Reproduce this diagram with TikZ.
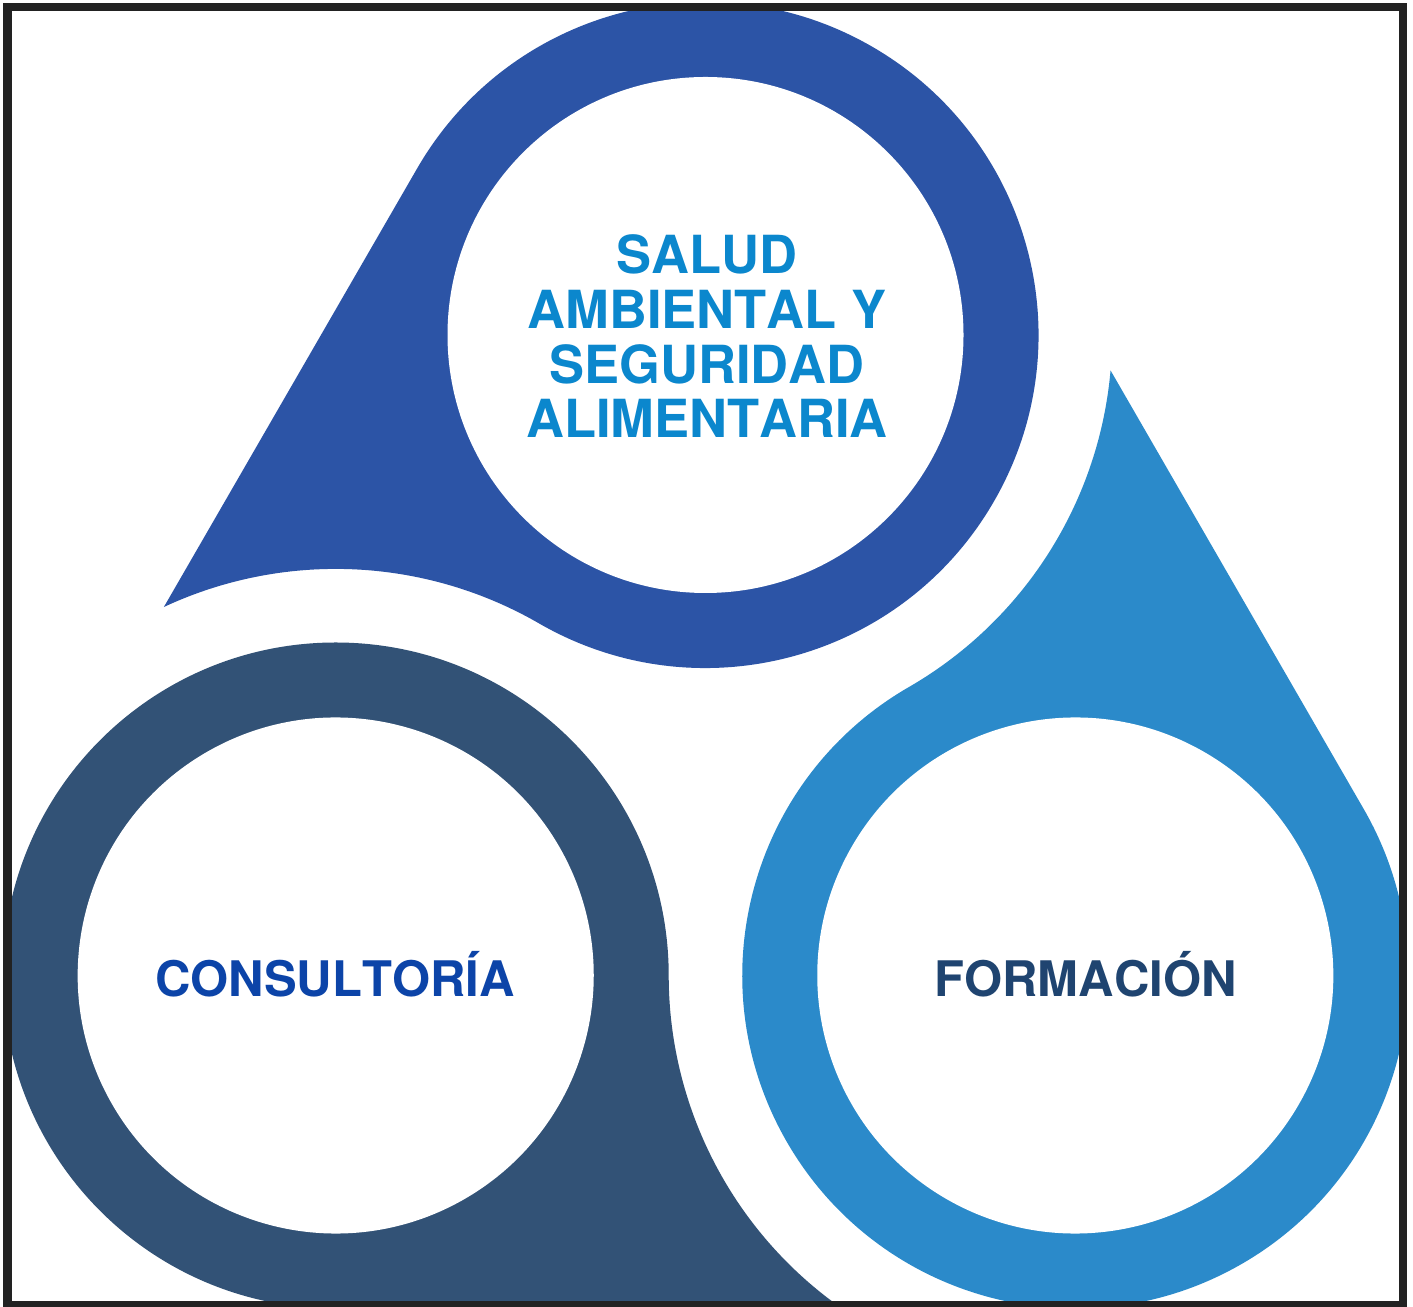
\documentclass[tikz,border=0pt]{standalone}
\usepackage{fontspec}
\setmainfont{TeX Gyre Heros}[Kerning=Off]
\definecolor{topblue}{RGB}{44,84,166}
\definecolor{slateblue}{RGB}{50,82,118}
\definecolor{lightblue}{RGB}{43,138,202}
\definecolor{saludtext}{RGB}{11,135,205}
\definecolor{consultext}{RGB}{12,68,168}
\definecolor{formtext}{RGB}{31,68,112}
\definecolor{framecol}{RGB}{34,34,34}
\begin{document}
\begin{tikzpicture}[x=1pt,y=1pt,
  dropfill/.style={fill=#1},
  holefill/.style={fill=white},
  bigtext/.style={font=\fontsize{52.5}{54.7}\selectfont\bfseries, align=center, inner sep=0pt},
  midtext/.style={font=\fontsize{49}{58}\selectfont\bfseries, anchor=base, inner sep=0pt}]
\useasboundingbox (0,0) rectangle (1413,1306);
\fill[white] (0,0) rectangle (1413,1306);
\begin{scope}
  \clip (7.5,1) rectangle (1403,1299);
  \foreach \rot/\col in {0/topblue, -120/lightblue, 120/slateblue} {
    \begin{scope}[shift={(705.5,544)}, rotate=\rot]
      \path[dropfill=\col] (-541.62,154.99)
        arc[start angle=115, end angle=60, radius=406.58]
        arc[start angle=240, end angle=510, radius=333] -- cycle;
      \path[holefill] (0,427) circle[radius=258];
    \end{scope}
  }
\end{scope}
\draw[line width=8.5, framecol] (7.5,1) rectangle (1403,1299);
\node[bigtext, text=saludtext] (salud) at (707,969.5)
  {SALUD\\AMBIENTAL Y\\SEGURIDAD\\ALIMENTARIA};
\node[midtext, text=consultext] (consultoria) at (335,309) {CONSULTORÍA};
\node[midtext, text=formtext] (formacion) at (1085.5,309) {FORMACIÓN};
\end{tikzpicture}
\end{document}
